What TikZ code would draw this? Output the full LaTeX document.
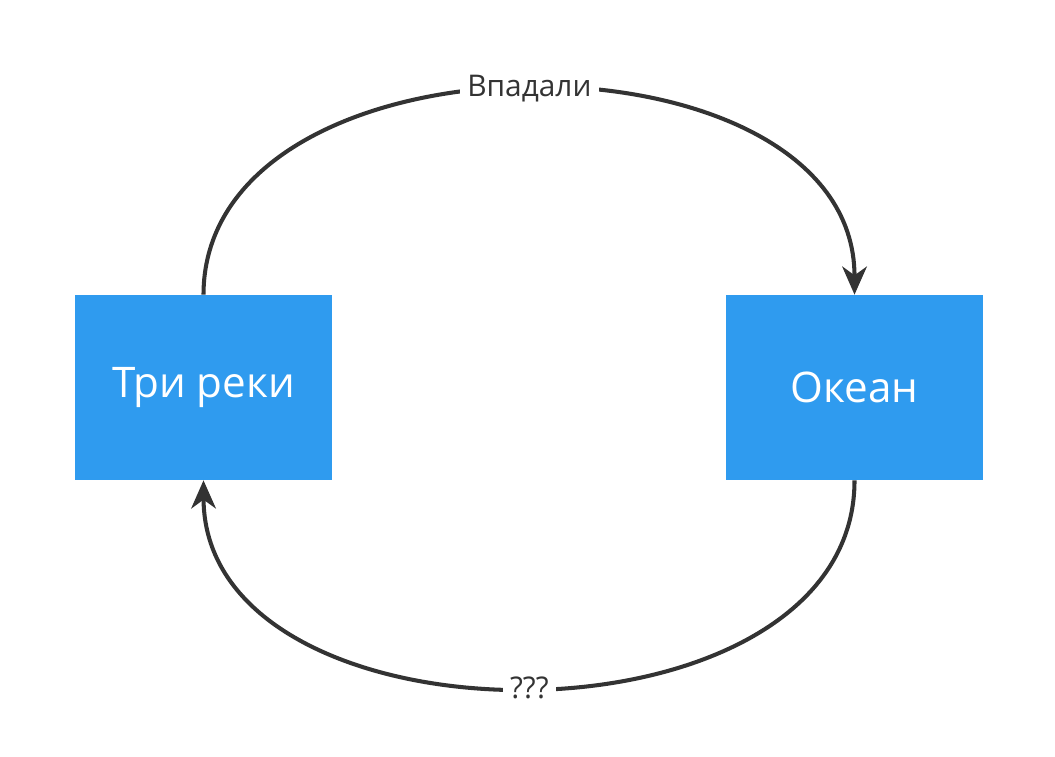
\documentclass[tikz,border=0pt]{standalone}
\usepackage{fontspec}
\setmainfont{Open Sans}
\usetikzlibrary{arrows.meta}
\definecolor{boxblue}{HTML}{2F9BEF}
\definecolor{ink}{HTML}{333333}
\begin{document}
\begin{tikzpicture}[x=0.02cm, y=-0.02cm,
  box/.style={fill=boxblue, text=white, minimum width=257*0.02cm, minimum height=185*0.02cm, inner sep=0pt, font=\fontsize{24}{28}\selectfont},
  flow/.style={ink, line width=2.3pt, -{Stealth[length=16pt, width=14pt, inset=5pt]}},
  lbl/.style={fill=white, text=ink, font=\fontsize{17}{20}\selectfont, inner sep=4pt}]
\useasboundingbox (0,0) rectangle (1055,757);
% boxes
\node[box] (rivers) at (203.5,387.5) {Три реки};
\node[box] (ocean) at (854.5,387.5) {Океан};
% arrows
\draw[flow] (rivers.north) .. controls (204,20) and (855,20) .. (ocean.north)
  node[lbl, pos=0.5] {Впадали};
\draw[flow] (ocean.south) .. controls (855,757) and (204,757) .. (rivers.south)
  node[lbl, pos=0.5] {???};
\end{tikzpicture}
\end{document}
